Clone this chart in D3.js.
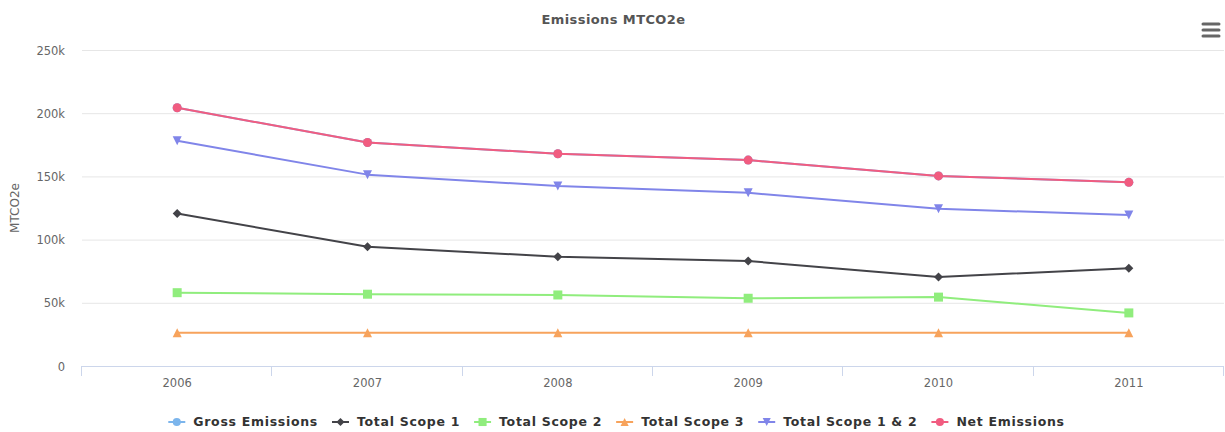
<!DOCTYPE html>
<html>
<head>
<meta charset="utf-8">
<script src="https://cdn.jsdelivr.net/npm/d3@7"></script>
<style>
  html, body { margin: 0; padding: 0; background: #fff; }
  svg { display: block; font-family: "DejaVu Sans", Verdana, sans-serif; }
</style>
</head>
<body>
<svg id="chart" width="1225" height="432"></svg>
<script>
// Emissions by year (thousands of tonnes CO2e)
const years = ["2006", "2007", "2008", "2009", "2010", "2011"];
const grossEmissions = [204.3, 176.8, 167.9, 162.9, 150.4, 145.3];
const totalScope1 = [120.6, 94.4, 86.5, 83.1, 70.4, 77.4];
const totalScope2 = [58.0, 56.8, 56.2, 53.6, 54.5, 42.0];
const totalScope3 = [26.3, 26.3, 26.3, 26.3, 26.3, 26.3];
const totalScope12 = [178.2, 151.4, 142.4, 137.0, 124.4, 119.4];
const netEmissions = [204.3, 176.8, 167.9, 162.9, 150.4, 145.3];
const yTicks = [0, 50, 100, 150, 200, 250];

const series = [
  { name: "Gross Emissions", values: grossEmissions, color: "#7cb5ec", symbol: "circle" },
  { name: "Total Scope 1", values: totalScope1, color: "#434348", symbol: "diamond" },
  { name: "Total Scope 2", values: totalScope2, color: "#90ed7d", symbol: "square" },
  { name: "Total Scope 3", values: totalScope3, color: "#f7a35c", symbol: "triangle" },
  { name: "Total Scope 1 & 2", values: totalScope12, color: "#8085e9", symbol: "triangle-down" },
  { name: "Net Emissions", values: netEmissions, color: "#f15c80", symbol: "circle" }
];

const svg = d3.select("#chart");
const W = 1225, H = 432;
const plot = { left: 82, right: 1224, top: 50, bottom: 366 };

const x = d3.scaleBand().domain(years).range([plot.left, plot.right]);
const y = d3.scaleLinear().domain([0, 250]).range([plot.bottom, plot.top]);
const cx = d => x(d) + x.bandwidth() / 2;

// Title
svg.append("text")
  .attr("x", W / 2 + 1).attr("y", 24)
  .attr("text-anchor", "middle")
  .attr("fill", "#555").attr("font-size", 13).attr("font-weight", "bold")
  .attr("letter-spacing", 0.4)
  .text("Emissions MTCO2e");

// Menu button
const menu = svg.append("g").attr("stroke", "#666").attr("stroke-width", 3).attr("stroke-linecap", "round");
[24, 30, 36].forEach(v => menu.append("line").attr("x1", 1203).attr("x2", 1219).attr("y1", v).attr("y2", v));

// Horizontal grid and y labels
const yAxis = d3.axisLeft(y).tickValues(yTicks)
  .tickSize(-(plot.right - plot.left))
  .tickFormat(d => d === 0 ? "0" : d + "k");
const gy = svg.append("g").attr("transform", `translate(${plot.left},0)`).call(yAxis);
gy.select(".domain").remove();
gy.selectAll(".tick line").attr("stroke", "#e6e6e6");
gy.selectAll(".tick text").attr("x", -17).attr("dy", "0.35em")
  .attr("fill", "#666").attr("font-size", 11.5)
  .attr("font-family", "DejaVu Sans, sans-serif");

// y axis title
svg.append("text")
  .attr("transform", `translate(19,${(plot.top + plot.bottom) / 2}) rotate(-90)`)
  .attr("text-anchor", "middle")
  .attr("fill", "#666").attr("font-size", 12)
  .text("MTCO2e");

// x axis: line, category-boundary ticks and labels
const gx = svg.append("g");
gx.append("line")
  .attr("x1", plot.left).attr("x2", plot.right)
  .attr("y1", plot.bottom + 0.5).attr("y2", plot.bottom + 0.5)
  .attr("stroke", "#ccd6eb");
const bounds = years.map(d => x(d)).concat([x(years[years.length - 1]) + x.bandwidth()]);
gx.selectAll("line.tick").data(bounds).join("line")
  .attr("class", "tick")
  .attr("x1", d => Math.round(d) - 0.5).attr("x2", d => Math.round(d) - 0.5)
  .attr("y1", plot.bottom).attr("y2", plot.bottom + 10)
  .attr("stroke", "#ccd6eb");
gx.selectAll("text").data(years).join("text")
  .attr("x", d => cx(d)).attr("y", plot.bottom + 21)
  .attr("text-anchor", "middle")
  .attr("fill", "#666").attr("font-size", 11.5)
  .text(d => d);

// Marker shapes
function markerPath(sym) {
  switch (sym) {
    case "circle": return "M0,-4.5A4.5,4.5 0 1,1 0,4.5A4.5,4.5 0 1,1 0,-4.5Z";
    case "diamond": return "M0,-4.5L4.5,0L0,4.5L-4.5,0Z";
    case "square": return "M-4.5,-4.5L4.5,-4.5L4.5,4.5L-4.5,4.5Z";
    case "triangle": return "M0,-4.5L4.5,4.5L-4.5,4.5Z";
    case "triangle-down": return "M-4.5,-4.5L4.5,-4.5L0,4.5Z";
  }
}

// Series lines and markers
const line = d3.line().x((d, i) => cx(years[i])).y(d => y(d));
series.forEach(s => {
  const g = svg.append("g");
  g.append("path").datum(s.values)
    .attr("d", line)
    .attr("fill", "none").attr("stroke", s.color).attr("stroke-width", 2)
    .attr("stroke-linejoin", "round").attr("stroke-linecap", "round");
  g.selectAll("path.m").data(s.values).join("path")
    .attr("class", "m")
    .attr("transform", (d, i) => `translate(${cx(years[i])},${y(d)})`)
    .attr("d", markerPath(s.symbol))
    .attr("fill", s.color);
});

// Legend
const legend = svg.append("g");
const items = [];
series.forEach(s => {
  const it = legend.append("g");
  it.append("line").attr("x1", 0).attr("x2", 17).attr("y1", 0).attr("y2", 0)
    .attr("stroke", s.color).attr("stroke-width", 2);
  it.append("path").attr("transform", "translate(8.5,0) scale(0.9)").attr("d", markerPath(s.symbol)).attr("fill", s.color);
  const t = it.append("text").attr("x", 25).attr("dy", "0.35em")
    .attr("fill", "#333").attr("font-size", 12.5).attr("font-weight", "bold")
    .attr("letter-spacing", 0.7)
    .text(s.name);
  items.push({ g: it, w: 25 + t.node().getComputedTextLength() });
});
const gap = 14;
const total = d3.sum(items, d => d.w) + gap * (items.length - 1);
let lx = (W - total) / 2 + 4;
items.forEach(it => {
  it.g.attr("transform", `translate(${lx},422)`);
  lx += it.w + gap;
});
</script>
</body>
</html>
